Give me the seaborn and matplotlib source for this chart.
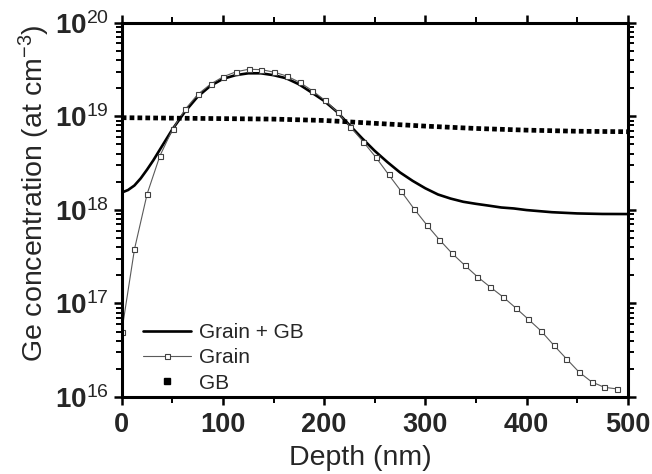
import matplotlib
matplotlib.use("Agg")
import matplotlib.pyplot as plt
from matplotlib.lines import Line2D
from matplotlib.ticker import LogLocator, NullFormatter, MultipleLocator
import numpy as np
import seaborn as sns

# Depth profile of Ge (depth in nm, concentration in at/cm^3)
depth_grain = [0.0, 12.6, 25.1, 37.7, 50.2, 62.8, 75.3, 87.9, 100.4, 113.0,
               125.5, 138.1, 150.6, 163.2, 175.7, 188.3, 200.8, 213.4, 225.9, 238.5,
               251.0, 263.6, 276.1, 288.7, 301.2, 313.8, 326.3, 338.9, 351.4, 364.0,
               376.5, 389.1, 401.6, 414.2, 426.7, 439.3, 451.8, 464.4, 476.9, 489.5]
conc_grain = [5.0e16, 3.8e17, 1.48e18, 3.77e18, 7.26e18, 1.19e19, 1.72e19, 2.21e19, 2.65e19, 2.99e19,
              3.18e19, 3.15e19, 2.96e19, 2.69e19, 2.31e19, 1.88e19, 1.48e19, 1.10e19, 7.74e18, 5.36e18,
              3.66e18, 2.39e18, 1.58e18, 1.03e18, 6.95e17, 4.81e17, 3.44e17, 2.56e17, 1.93e17, 1.50e17,
              1.18e17, 9.0e16, 6.8e16, 5.1e16, 3.6e16, 2.57e16, 1.85e16, 1.45e16, 1.27e16, 1.22e16]

depth_total = [0, 6.25, 12.5, 18.75, 25, 31.25, 37.5, 50, 62.5, 75, 87.5, 100, 112.5,
               125, 137.5, 150, 162.5, 175, 187.5, 200, 212.5, 225, 237.5,
               250, 262.5, 275, 287.5, 300, 312.5, 325, 337.5, 350, 362.5,
               375, 387.5, 400, 425, 450, 475, 500]
conc_total = [1.53e18, 1.63e18, 1.82e18, 2.17e18, 2.69e18, 3.39e18, 4.37e18, 7.24e18, 1.12e19, 1.62e19,
              2.11e19, 2.51e19, 2.75e19,
              2.88e19, 2.88e19, 2.75e19, 2.55e19, 2.20e19, 1.80e19, 1.46e19, 1.12e19, 8.07e18, 5.82e18,
              4.27e18, 3.24e18, 2.51e18, 2.04e18, 1.70e18, 1.46e18, 1.32e18, 1.22e18, 1.16e18, 1.11e18,
              1.06e18, 1.035e18, 9.95e17, 9.44e17, 9.16e17, 9.04e17, 9.02e17]

depth_gb = [0, 50, 100, 150, 200, 250, 300, 350, 400, 450, 500]
conc_gb = [9.66e18, 9.55e18, 9.44e18, 9.33e18, 9.02e18, 8.41e18, 7.85e18, 7.41e18, 7.11e18, 6.92e18, 6.84e18]

series_labels = ["Grain + GB", "Grain", "GB"]
x_ticks = [0, 100, 200, 300, 400, 500]
y_exponents = [16, 17, 18, 19, 20]

sns.set_theme(style="ticks")
plt.rcParams["font.family"] = ["Liberation Sans", "DejaVu Sans"]
plt.rcParams["mathtext.fontset"] = "custom"
plt.rcParams["mathtext.rm"] = "Liberation Sans"
plt.rcParams["mathtext.bf"] = "Liberation Sans:bold"
plt.rcParams["mathtext.it"] = "Liberation Sans:italic"

fig = plt.figure(figsize=(6.52, 4.74), dpi=100)
ax = fig.add_axes([0.1867, 0.1624, 0.7761, 0.7897])

total_color = "black"
grain_color = "#5a5a5a"

sns.lineplot(x=depth_total, y=conc_total, ax=ax, color=total_color, lw=1.9)
sns.lineplot(x=depth_grain, y=conc_grain, ax=ax, color=grain_color, lw=0.8,
             marker="s", markersize=3.6, markerfacecolor="white",
             markeredgecolor="#404040", markeredgewidth=0.8)
sns.lineplot(x=depth_gb, y=conc_gb, ax=ax, color="black", lw=3.4,
             linestyle=(0, (1, 0.67)), dash_capstyle="butt")

ax.set_yscale("log")
ax.set_xlim(0, 500)
ax.set_ylim(1e16, 1e20)

ax.set_xticks(x_ticks)
ax.set_xticklabels([str(t) for t in x_ticks], fontsize=19.5, fontweight="bold")
ax.xaxis.set_minor_locator(MultipleLocator(50))

ax.set_yticks([10.0 ** e for e in y_exponents])
ax.set_yticklabels([r"$\mathbf{10}^{\mathrm{%d}}$" % e for e in y_exponents], fontsize=20)
ax.yaxis.set_minor_locator(LogLocator(base=10, subs=np.arange(2, 10)))
ax.yaxis.set_minor_formatter(NullFormatter())

for side in ["left", "right", "top", "bottom"]:
    ax.spines[side].set_linewidth(2.2)
    ax.spines[side].set_color("black")

ax.tick_params(which="major", direction="out", length=6, width=1.8, color="black",
               top=True, right=True, labeltop=False, labelright=False)
ax.tick_params(which="minor", direction="out", length=4, width=1.4, color="black",
               top=True, right=True)
ax.tick_params(axis="x", which="major", pad=5)
ax.tick_params(axis="y", which="major", pad=3)

ax.set_xlabel("")
ax.set_ylabel("")
fig.text(0.552, 1 - 465 / 474, "Depth (nm)", ha="center", va="baseline", fontsize=20.5)
fig.text(43 / 652, 0.592, r"Ge concentration (at cm$^{\mathrm{-3}}$)", rotation=90,
         rotation_mode="anchor", ha="center", va="baseline", fontsize=20.5)

handles = [
    Line2D([], [], color=total_color, lw=1.9),
    Line2D([], [], color=grain_color, lw=0.8, marker="s", markersize=3.6,
           markerfacecolor="white", markeredgecolor="#404040", markeredgewidth=0.8),
    Line2D([], [], color="black", marker="s", linestyle="none", markersize=4),
]
ax.legend(handles, series_labels, loc="lower left", bbox_to_anchor=(0.042, 0.012),
          frameon=False, fontsize=15, handlelength=2.3, handletextpad=0.4,
          labelspacing=0.3, borderaxespad=0, borderpad=0)

fig.savefig("out.png", dpi=100)
